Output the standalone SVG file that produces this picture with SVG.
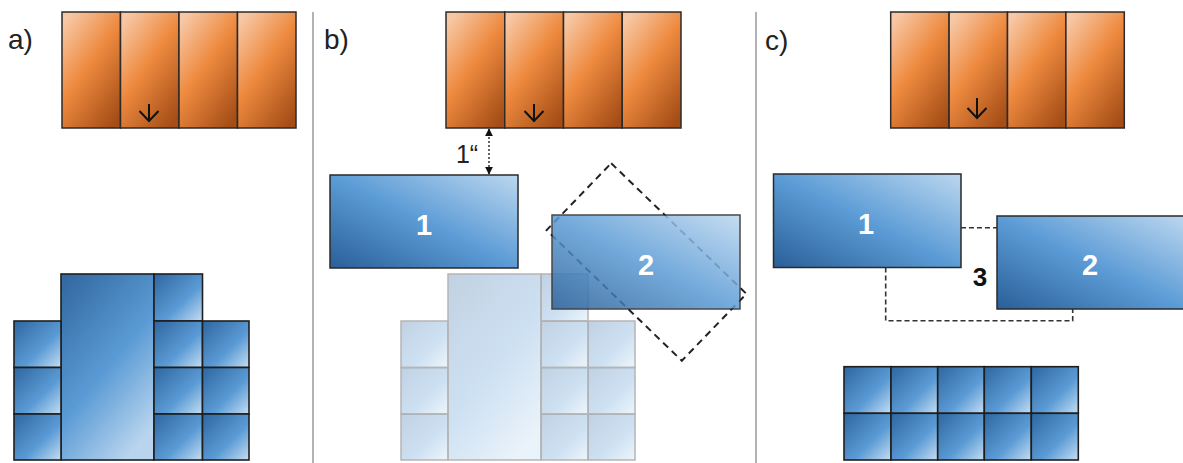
<svg xmlns="http://www.w3.org/2000/svg" width="1183" height="463" viewBox="0 0 1183 463">
<defs>
<linearGradient id="gOr" x1="0.15" y1="0" x2="0.85" y2="1">
<stop offset="0" stop-color="#f7c8a6"/><stop offset="0.45" stop-color="#ee8a3f"/><stop offset="1" stop-color="#a44d16"/>
</linearGradient>
<linearGradient id="gRect" x1="0" y1="1" x2="1" y2="0">
<stop offset="0" stop-color="#2a5f98"/><stop offset="0.5" stop-color="#5c9cd6"/><stop offset="1" stop-color="#bcd7ef"/>
</linearGradient>
<linearGradient id="gCell" x1="0" y1="0" x2="1" y2="1">
<stop offset="0" stop-color="#2e66a0"/><stop offset="0.6" stop-color="#5b9bd5"/><stop offset="1" stop-color="#c6def2"/>
</linearGradient>
<linearGradient id="gTall" x1="0.1" y1="0" x2="0.7" y2="1">
<stop offset="0" stop-color="#336aa1"/><stop offset="0.55" stop-color="#5b9bd5"/><stop offset="1" stop-color="#b9d5ee"/>
</linearGradient>
<marker id="tri" viewBox="0 0 10 10" refX="9" refY="5" markerWidth="8" markerHeight="8" orient="auto-start-reverse" markerUnits="userSpaceOnUse">
<path d="M0,0 L10,5 L0,10 z" fill="#111"/>
</marker>
</defs>
<style>
.or{fill:url(#gOr);stroke:#2b2b2b;stroke-width:1.5}
.cell{fill:url(#gCell);stroke:#1e1e1e;stroke-width:1.6}
.tall{fill:url(#gTall);stroke:#1e1e1e;stroke-width:1.6}
.big{fill:url(#gRect);stroke:#2a2a2a;stroke-width:1.5}
.fade .cell,.fade .tall{stroke:#b5b5b5;stroke-width:1.5;fill-opacity:0.3}
.div{stroke:#9a9a9a;stroke-width:1.5}
.lbl{font-family:"Liberation Sans",Arial,sans-serif;font-size:28px;fill:#222}
.num{font-family:"Liberation Sans",Arial,sans-serif;font-size:29px;font-weight:bold;fill:#fff;text-anchor:middle}
.arr{fill:none;stroke:#111;stroke-width:2}
.dash{fill:none;stroke:#333;stroke-width:1.6;stroke-dasharray:5 3}
</style>

<line class="div" x1="313" y1="12" x2="313" y2="463"/>
<line class="div" x1="756" y1="12" x2="756" y2="463"/>

<text class="lbl" x="8" y="49">a)</text>
<text class="lbl" x="324" y="49">b)</text>
<text class="lbl" x="765" y="50">c)</text>

<!-- Panel a -->
<g id="a-display">
<rect class="or" x="62" y="12" width="58.5" height="116"/>
<rect class="or" x="120.5" y="12" width="58.5" height="116"/>
<rect class="or" x="179" y="12" width="58.5" height="116"/>
<rect class="or" x="237.5" y="12" width="58.5" height="116"/>
<path class="arr" d="M149,104 V121 M139.5,111 L149,121 L158.5,111"/>
</g>
<g id="a-grid">
<rect class="tall" x="61" y="274" width="93" height="186"/>
<rect class="cell" x="14" y="321" width="47" height="46.5"/>
<rect class="cell" x="14" y="367.5" width="47" height="46.5"/>
<rect class="cell" x="14" y="414" width="47" height="46"/>
<rect class="cell" x="154" y="274" width="48.5" height="47"/>
<rect class="cell" x="154" y="321" width="48.5" height="46.5"/>
<rect class="cell" x="154" y="367.5" width="48.5" height="46.5"/>
<rect class="cell" x="154" y="414" width="48.5" height="46"/>
<rect class="cell" x="202.5" y="321" width="46.5" height="46.5"/>
<rect class="cell" x="202.5" y="367.5" width="46.5" height="46.5"/>
<rect class="cell" x="202.5" y="414" width="46.5" height="46"/>
</g>

<!-- Panel b -->
<g id="b-display">
<rect class="or" x="446" y="12" width="58.75" height="116"/>
<rect class="or" x="504.75" y="12" width="58.75" height="116"/>
<rect class="or" x="563.5" y="12" width="58.75" height="116"/>
<rect class="or" x="622.25" y="12" width="58.75" height="116"/>
<path class="arr" d="M534,104 V121 M524.5,111 L534,121 L543.5,111"/>
</g>
<g id="b-grid" class="fade">
<rect class="tall" x="448" y="274" width="93" height="186"/>
<rect class="cell" x="401" y="321" width="47" height="46.5"/>
<rect class="cell" x="401" y="367.5" width="47" height="46.5"/>
<rect class="cell" x="401" y="414" width="47" height="46"/>
<rect class="cell" x="541" y="274" width="47" height="47"/>
<rect class="cell" x="541" y="321" width="47" height="46.5"/>
<rect class="cell" x="541" y="367.5" width="47" height="46.5"/>
<rect class="cell" x="541" y="414" width="47" height="46"/>
<rect class="cell" x="588" y="321" width="47" height="46.5"/>
<rect class="cell" x="588" y="367.5" width="47" height="46.5"/>
<rect class="cell" x="588" y="414" width="47" height="46"/>
</g>
<g id="b-rect1">
<rect class="big" x="330" y="175" width="188" height="93"/>
<text class="num" x="424" y="235">1</text>
</g>
<g id="b-rotated">
<rect x="552.5" y="215.5" width="188" height="93" fill="none" stroke="#222" stroke-width="2" stroke-dasharray="7 5" transform="rotate(44 646.5 262)"/>
</g>
<g id="b-rect2">
<rect class="big" x="552" y="215" width="188" height="94" opacity="0.85"/>
<text class="num" x="646" y="275">2</text>
</g>

<!-- Panel c -->
<g id="c-display">
<rect class="or" x="890.7" y="12" width="58.4" height="116"/>
<rect class="or" x="949.1" y="12" width="58.4" height="116"/>
<rect class="or" x="1007.5" y="12" width="58.4" height="116"/>
<rect class="or" x="1065.9" y="12" width="58.4" height="116"/>
<path class="arr" d="M977,98 V118 M967.5,108 L977,118 L986.5,108"/>
</g>
<g id="c-rect1">
<rect class="big" x="773.5" y="174" width="187.5" height="93.5"/>
<text class="num" x="866" y="234">1</text>
</g>
<g id="c-rect2">
<rect class="big" x="997" y="216" width="188" height="93"/>
<text class="num" x="1090" y="275">2</text>
</g>
<text x="980" y="286" font-family="Liberation Sans, Arial, sans-serif" font-size="26" font-weight="bold" fill="#111" text-anchor="middle">3</text>
<g id="c-grid">
<rect class="cell" x="844" y="366.7" width="47" height="46.6"/>
<rect class="cell" x="891" y="366.7" width="46.7" height="46.6"/>
<rect class="cell" x="937.7" y="366.7" width="46.6" height="46.6"/>
<rect class="cell" x="984.3" y="366.7" width="47" height="46.6"/>
<rect class="cell" x="1031.3" y="366.7" width="47" height="46.6"/>
<rect class="cell" x="844" y="413.3" width="47" height="46.7"/>
<rect class="cell" x="891" y="413.3" width="46.7" height="46.7"/>
<rect class="cell" x="937.7" y="413.3" width="46.6" height="46.7"/>
<rect class="cell" x="984.3" y="413.3" width="47" height="46.7"/>
<rect class="cell" x="1031.3" y="413.3" width="47" height="46.7"/>
</g>

<g id="connectors">
<line x1="489" y1="129" x2="489" y2="174" stroke="#111" stroke-width="1.3" stroke-dasharray="2 2" marker-start="url(#tri)" marker-end="url(#tri)"/>
<text x="467" y="163" font-family="Liberation Sans, Arial, sans-serif" font-size="25" fill="#222" text-anchor="middle">1“</text>
<path class="dash" d="M961,227.7 H997"/>
<path class="dash" d="M885.7,267.5 V320.7 H1072.7 V309"/>
</g>
</svg>
